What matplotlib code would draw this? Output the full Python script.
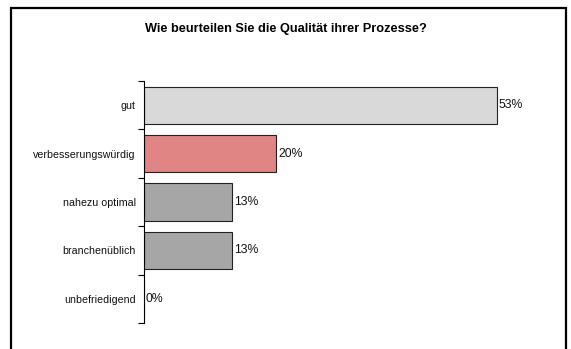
import matplotlib
matplotlib.use("Agg")
import matplotlib.pyplot as plt
from matplotlib.patches import Rectangle

categories = ["gut", "verbesserungswürdig", "nahezu optimal", "branchenüblich", "unbefriedigend"]
values = [53.3, 20.0, 13.3, 13.3, 0.0]
value_labels = ["53%", "20%", "13%", "13%", "0%"]
colors = ["#D9D9D9", "#E08583", "#A6A6A6", "#A6A6A6", "#A6A6A6"]
title = "Wie beurteilen Sie die Qualität ihrer Prozesse?"

plt.rcParams['font.family'] = ['Liberation Sans', 'DejaVu Sans']

W, H = 571, 349
fig = plt.figure(figsize=(W / 100, H / 100), dpi=100)
fig.patch.set_facecolor("white")

# outer frame
fig.patches.append(Rectangle((11 / W, -0.05), (566 - 11) / W, 1.05 - 8 / H,
                             transform=fig.transFigure, fill=False,
                             edgecolor="black", linewidth=1.6))

x0, x1 = 143.5, 541
y_top, y_bot = 81, 323
ax = fig.add_axes([x0 / W, 1 - y_bot / H, (x1 - x0) / W, (y_bot - y_top) / H])

n = len(categories)
pos = list(range(n))
ax.barh(pos, values, height=0.77, color=colors, edgecolor="#222222", linewidth=0.8)
ax.set_ylim(n - 0.5, -0.5)
ax.set_xlim(0, 60)

for p, v, lab in zip(pos, values, value_labels):
    ax.text(v + 0.35, p, lab, va="center", ha="left", fontsize=8.8, color="#111111")

ax.set_yticks(pos)
ax.set_yticklabels(categories, fontsize=7.7, color="#111111")
ax.tick_params(axis="y", which="major", length=0, pad=5.5)
ax.set_yticks([i - 0.5 for i in range(n + 1)], minor=True)
ax.tick_params(axis="y", which="minor", length=4, width=0.8, direction="out")
ax.set_xticks([])
for s in ["top", "right", "bottom"]:
    ax.spines[s].set_visible(False)
ax.spines["left"].set_linewidth(0.8)

fig.text(285.5 / W, 1 - 29 / H, title, ha="center", va="center",
         fontsize=9.2, fontweight="bold")

fig.savefig("out.png", dpi=100)
